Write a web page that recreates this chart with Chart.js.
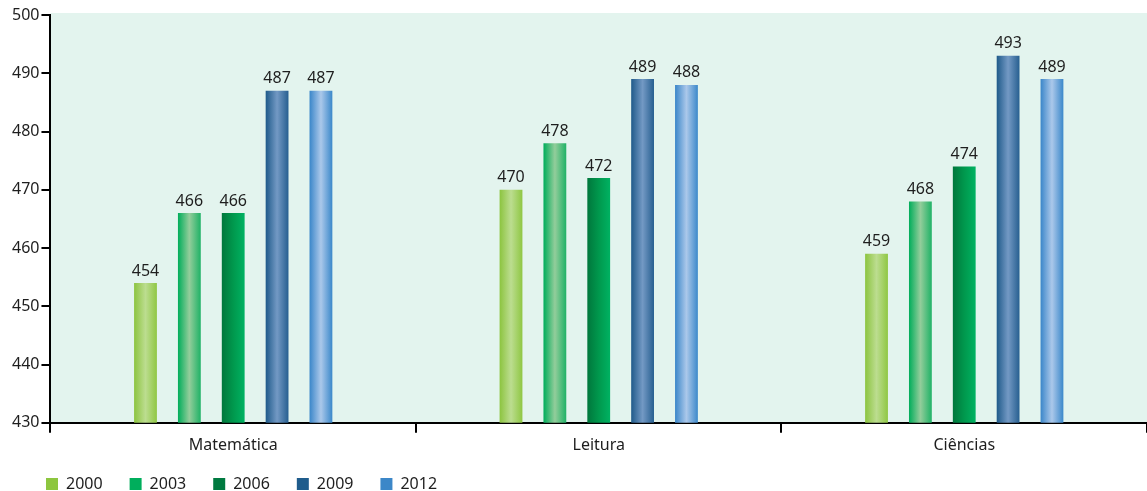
<!DOCTYPE html>
<html>
<head>
<meta charset="utf-8">
<script src="https://cdn.jsdelivr.net/npm/chart.js@4.4.1/dist/chart.umd.min.js"></script>
<style>
	html, body { margin: 0; padding: 0; background: #fff; }
</style>
</head>
<body>
<canvas id="pisa-chart" width="1147" height="491"></canvas>
<script>
// data
var categories = ['Matemática', 'Leitura', 'Ciências'];
var years = ['2000', '2003', '2006', '2009', '2012'];
var scores2000 = [454, 470, 459];
var scores2003 = [466, 478, 468];
var scores2006 = [466, 472, 474];
var scores2009 = [487, 489, 493];
var scores2012 = [487, 488, 489];
var yMin = 430;
var yMax = 500;
var yStep = 10;

// styles
var legendColors = ['#8dc63f', '#00ae5c', '#007a40', '#1f5c8c', '#3c87c8'];
var barStops = [
	['#8cc43f', '#bcdd90', '#8fc743'],
	['#00ad5a', '#93cd9b', '#1fb266'],
	['#00773c', '#00984d', '#00b262'],
	['#1f5a8a', '#7399c4', '#275f90'],
	['#3a86c9', '#abc8ea', '#3b88ca'],
];
var textColor = '#1e1e1e';
var fontFamily = '"Noto Sans", sans-serif';

var allScores = [scores2000, scores2003, scores2006, scores2009, scores2012];

var datasets = years.map(function (y, i) {
	return {
		label: y,
		data: allScores[i],
		backgroundColor: function () { return legendColors[i]; },
		borderWidth: 0,
		categoryPercentage: 0.6,
		barPercentage: 0.52,
	};
});

// plot background
var plotBg = {
	id: 'plotBg',
	beforeDraw: function (chart) {
		var a = chart.chartArea;
		var c = chart.ctx;
		c.save();
		c.fillStyle = '#e3f4ee';
		c.fillRect(a.left, a.top - 2, a.right - a.left, a.bottom - a.top + 2);
		c.restore();
	}
};

// shaded bars
var barShade = {
	id: 'barShade',
	beforeDatasetsDraw: function (chart) {
		var c = chart.ctx;
		chart.data.datasets.forEach(function (ds, i) {
			var meta = chart.getDatasetMeta(i);
			meta.data.forEach(function (el) {
				var g = c.createLinearGradient(el.x - el.width / 2, 0, el.x + el.width / 2, 0);
				g.addColorStop(0, barStops[i][0]);
				g.addColorStop(0.5, barStops[i][1]);
				g.addColorStop(1, barStops[i][2]);
				el.options.backgroundColor = g;
			});
		});
	}
};

// numbers above bars
var valueLabels = {
	id: 'valueLabels',
	afterDatasetsDraw: function (chart) {
		var c = chart.ctx;
		c.save();
		c.font = '16px ' + fontFamily;
		c.fillStyle = textColor;
		c.textAlign = 'center';
		c.textBaseline = 'bottom';
		chart.data.datasets.forEach(function (ds, i) {
			chart.getDatasetMeta(i).data.forEach(function (el, j) {
				c.fillText(ds.data[j], el.x, el.y - 4);
			});
		});
		c.restore();
	}
};

// move legend to sit under the axis start
var legendShift = {
	id: 'legendShift',
	afterLayout: function (chart) {
		var lg = chart.legend;
		lg.left += 9;
		lg.right += 9;
		lg.top -= 9;
	}
};

new Chart(document.getElementById('pisa-chart'), {
	type: 'bar',
	data: {
		labels: categories,
		datasets: datasets,
	},
	options: {
		responsive: false,
		animation: false,
		events: [],
		layout: {
			padding: { left: 10, right: 0, top: 15, bottom: 0 }
		},
		scales: {
			x: {
				border: { color: '#000', width: 2 },
				grid: {
					drawOnChartArea: false,
					offset: true,
					color: '#000',
					lineWidth: 2,
					tickLength: 10,
				},
				ticks: {
					color: textColor,
					padding: 3,
					font: { family: fontFamily, size: 16 },
				},
			},
			y: {
				min: yMin,
				max: yMax,
				border: { color: '#000', width: 2 },
				grid: {
					drawOnChartArea: false,
					color: '#000',
					lineWidth: 2,
					tickLength: 9,
				},
				ticks: {
					stepSize: yStep,
					color: textColor,
					padding: 2,
					font: { family: fontFamily, size: 16 },
				},
			},
		},
		plugins: {
			legend: {
				position: 'bottom',
				align: 'start',
				maxHeight: 33,
				labels: {
					boxWidth: 12,
					boxHeight: 12,
					padding: 27,
					color: textColor,
					font: { family: fontFamily, size: 16 },
				},
			},
			tooltip: { enabled: false },
		},
	},
	plugins: [plotBg, barShade, valueLabels, legendShift],
});
</script>
</body>
</html>
